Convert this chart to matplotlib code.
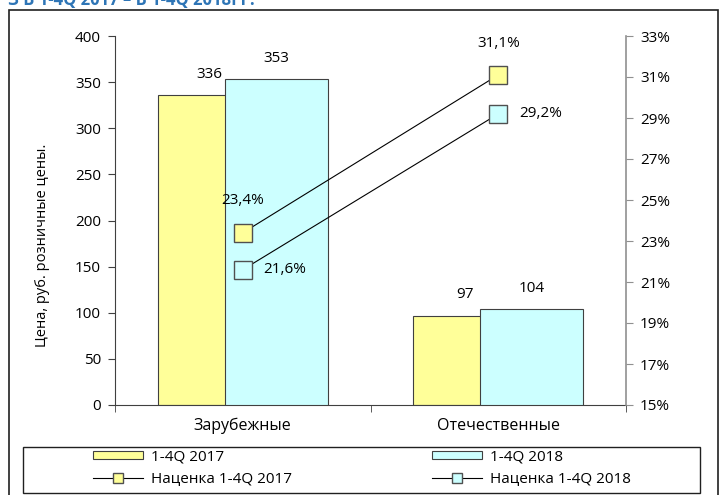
import matplotlib.pyplot as plt
from matplotlib.lines import Line2D
from matplotlib.patches import Patch, Rectangle

plt.rcParams['font.family'] = ['Open Sans', 'DejaVu Sans']

categories = ['Зарубежные', 'Отечественные']
price_2017 = [336, 97]
price_2018 = [353, 104]
markup_2017 = [23.4, 31.1]
markup_2018 = [21.6, 29.2]
markup_ticks = [15, 17, 19, 21, 23, 25, 27, 29, 31, 33]

yellow = '#FFFF99'
cyan = '#CCFFFF'

fig = plt.figure(figsize=(7.19, 4.95), dpi=100)
ax = fig.add_axes([115 / 719, 1 - 405 / 495, 511 / 719, 369 / 495])
ax2 = ax.twinx()

x = range(len(categories))
off = 0.131
w = 0.403
b1 = ax.bar([i - off for i in x], price_2017, w, color=yellow, edgecolor='#404040', linewidth=0.8, zorder=2)
b2 = ax.bar([i + off for i in x], price_2018, w, color=cyan, edgecolor='#404040', linewidth=0.8, zorder=3)
for bars in (b1, b2):
    for r in bars:
        ax.annotate(f'{int(r.get_height())}', (r.get_x() + r.get_width() / 2, r.get_height()),
                    xytext=(0, 15), textcoords='offset points', ha='center', va='center', fontsize=11)

ax.set_xlim(-0.5, 1.5)
ax.set_ylim(0, 400)
ax.set_yticks(range(0, 401, 50))
ax.set_xticks([0, 1])
ax.set_xticklabels(categories, fontsize=11.5)
ax.set_xticks([-0.5, 0.5, 1.5], minor=True)
ax.tick_params(axis='x', which='major', length=0, pad=9)
ax.tick_params(axis='x', which='minor', length=5, color='#404040')
ax.tick_params(axis='y', length=5, labelsize=11, color='#404040', pad=5)
for s in ('top', 'right'):
    ax.spines[s].set_visible(False)
ax.spines['left'].set_color('#404040')
ax.spines['bottom'].set_color('#404040')

ax2.plot(list(x), markup_2017, color='black', linewidth=0.8, marker='s', markersize=13,
         markerfacecolor=yellow, markeredgecolor='#505050', markeredgewidth=1, zorder=4)
ax2.plot(list(x), markup_2018, color='black', linewidth=0.8, marker='s', markersize=13,
         markerfacecolor=cyan, markeredgecolor='#505050', markeredgewidth=1, zorder=4)
ax2.set_ylim(15, 33)
ax2.set_yticks(markup_ticks)
ax2.set_yticklabels([f'{t}%' for t in markup_ticks])
ax2.tick_params(axis='y', length=5, labelsize=11, color='#909090', pad=5)
for s in ('top', 'left', 'bottom'):
    ax2.spines[s].set_visible(False)
ax2.spines['right'].set_color('#909090')
ax2.spines['right'].set_linewidth(1.2)

fmt = lambda v: f'{v:.1f}%'.replace('.', ',')
ax2.annotate(fmt(markup_2017[0]), (0, markup_2017[0]), xytext=(0, 23), textcoords='offset points',
             ha='center', va='center', fontsize=11)
ax2.annotate(fmt(markup_2017[1]), (1, markup_2017[1]), xytext=(0, 23), textcoords='offset points',
             ha='center', va='center', fontsize=11)
ax2.annotate(fmt(markup_2018[0]), (0, markup_2018[0]), xytext=(15, 0), textcoords='offset points',
             ha='left', va='center', fontsize=11)
ax2.annotate(fmt(markup_2018[1]), (1, markup_2018[1]), xytext=(15, 0), textcoords='offset points',
             ha='left', va='center', fontsize=11)

fig.text(43 / 719, 1 - 245 / 495, 'Цена, руб. розничные цены.', rotation=90,
         ha='center', va='center', fontsize=10.5)

# outer frame and legend frame
fig.patches.append(Rectangle((9 / 719, -0.05), 709 / 719, 1.05 - 10 / 495, transform=fig.transFigure,
                             fill=False, edgecolor='#202020', linewidth=1.2))
fig.patches.append(Rectangle((23 / 719, 1 - 493 / 495), 677 / 719, 46 / 495, transform=fig.transFigure,
                             fill=False, edgecolor='#202020', linewidth=1.0))

fig.text(8 / 719, 1.0, 'З В 1-4Q 2017 – В 1-4Q 2018ГГ.', color='#2E75B6', fontweight='bold',
         fontsize=12, ha='left', va='center')

col1 = [Patch(facecolor=yellow, edgecolor='#404040', linewidth=0.8),
        Line2D([], [], color='black', linewidth=0.8, marker='s', markersize=7,
               markerfacecolor=yellow, markeredgecolor='#505050')]
col2 = [Patch(facecolor=cyan, edgecolor='#404040', linewidth=0.8),
        Line2D([], [], color='black', linewidth=0.8, marker='s', markersize=7,
               markerfacecolor=cyan, markeredgecolor='#505050')]
leg_kw = dict(loc='center left', frameon=False, fontsize=11, borderpad=0, borderaxespad=0,
              handlelength=3.3, handleheight=0.5, handletextpad=0.5, labelspacing=0.45)
fig.legend(col1, ['1-4Q 2017', 'Наценка 1-4Q 2017'], bbox_to_anchor=(93 / 719, 1 - 468 / 495), **leg_kw)
fig.legend(col2, ['1-4Q 2018', 'Наценка 1-4Q 2018'], bbox_to_anchor=(432 / 719, 1 - 468 / 495), **leg_kw)

fig.savefig('out.png', dpi=100)
